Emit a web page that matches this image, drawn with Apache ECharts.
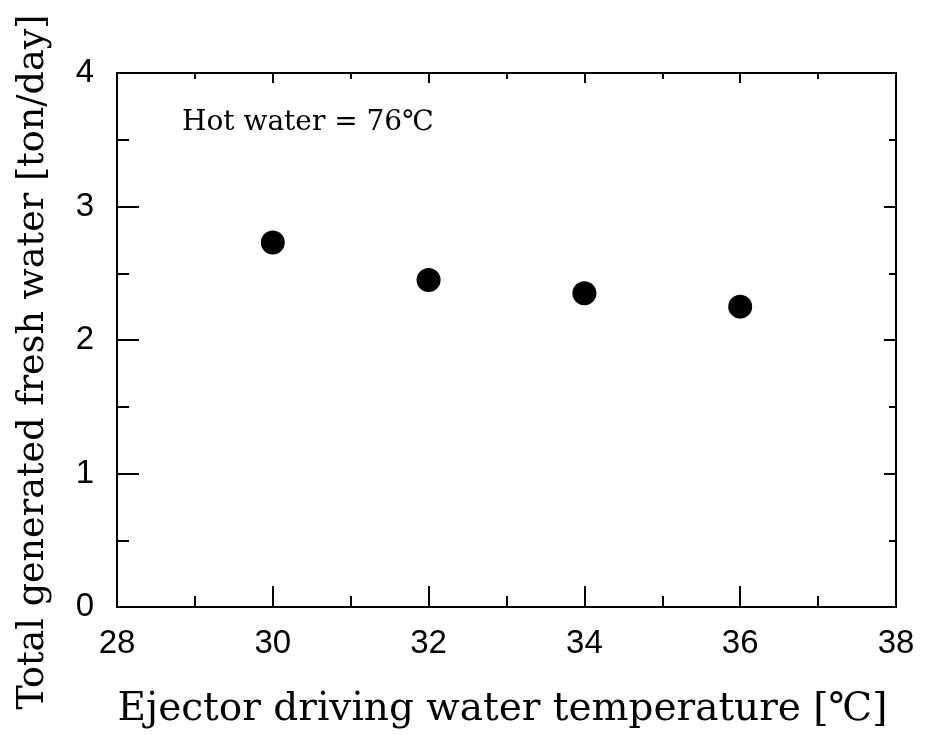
<!DOCTYPE html>
<html>
<head>
<meta charset="utf-8">
<script src="https://cdn.jsdelivr.net/npm/echarts@6/dist/echarts.min.js"></script>
<style>html,body{margin:0;padding:0;background:#fff;}#c{width:932px;height:735px;}</style>
</head>
<body>
<div id="c"></div>
<script>
const temperatures = [30, 32, 34, 36];
const freshWater = [2.73, 2.45, 2.35, 2.25];
const xTitle = 'Ejector driving water temperature [℃]';
const yTitle = 'Total generated fresh water [ton/day]';
const note = 'Hot water = 76℃';

const serif = '"DejaVu Serif", "Liberation Serif", "Noto Sans CJK JP", serif';
const sans = '"Liberation Sans", Arial, sans-serif';
const lineStyle = { color: '#000', width: 2 };

const chart = echarts.init(document.getElementById('c'), null, { renderer: 'canvas' });
chart.setOption({
  backgroundColor: '#fff',
  animation: false,
  grid: { left: 117, right: 36, top: 73, bottom: 128, containLabel: false, outerBoundsMode: 'none' },
  xAxis: [
    {
      type: 'value', min: 28, max: 38, interval: 2, position: 'bottom',
      name: xTitle, nameLocation: 'middle', nameGap: 83,
      nameTextStyle: { fontFamily: serif, fontSize: 39, color: '#000', padding: [0, 8, 0, 0] },
      axisLine: { show: true, onZero: false, lineStyle },
      axisTick: { show: true, inside: true, length: 21, lineStyle },
      minorTick: { show: true, splitNumber: 2, length: 11, lineStyle },
      splitLine: { show: false },
      axisLabel: { fontFamily: sans, fontSize: 33, color: '#000', margin: 20 }
    },
    {
      type: 'value', min: 28, max: 38, interval: 2, position: 'top',
      axisLine: { show: true, onZero: false, lineStyle },
      axisTick: { show: true, inside: true, length: 10, lineStyle },
      minorTick: { show: true, splitNumber: 2, length: 6, lineStyle },
      splitLine: { show: false },
      axisLabel: { show: false }
    }
  ],
  yAxis: [
    {
      type: 'value', min: 0, max: 4, interval: 1, position: 'left',
      axisLine: { show: true, onZero: false, lineStyle },
      axisTick: { show: true, inside: true, length: 22, lineStyle },
      minorTick: { show: true, splitNumber: 2, length: 12, lineStyle },
      splitLine: { show: false },
      axisLabel: { fontFamily: sans, fontSize: 33, color: '#000', margin: 23 }
    },
    {
      type: 'value', min: 0, max: 4, interval: 1, position: 'right',
      axisLine: { show: true, onZero: false, lineStyle },
      axisTick: { show: true, inside: true, length: 12, lineStyle },
      minorTick: { show: true, splitNumber: 2, length: 7, lineStyle },
      splitLine: { show: false },
      axisLabel: { show: false }
    }
  ],
  graphic: [
    {
      type: 'text', left: 182, top: 109,
      style: { text: note, font: '28px ' + serif, fill: '#000' }
    },
    {
      type: 'text', x: 34, y: 362, rotation: Math.PI / 2,
      style: { text: yTitle, font: '36.5px ' + serif, fill: '#000', align: 'center', verticalAlign: 'middle' }
    }
  ],
  series: [
    {
      type: 'scatter', xAxisIndex: 0, yAxisIndex: 0,
      data: temperatures.map((t, i) => [t, freshWater[i]]),
      symbol: 'circle', symbolSize: 24,
      itemStyle: { color: '#000', opacity: 1 }
    }
  ]
});
</script>
</body>
</html>
